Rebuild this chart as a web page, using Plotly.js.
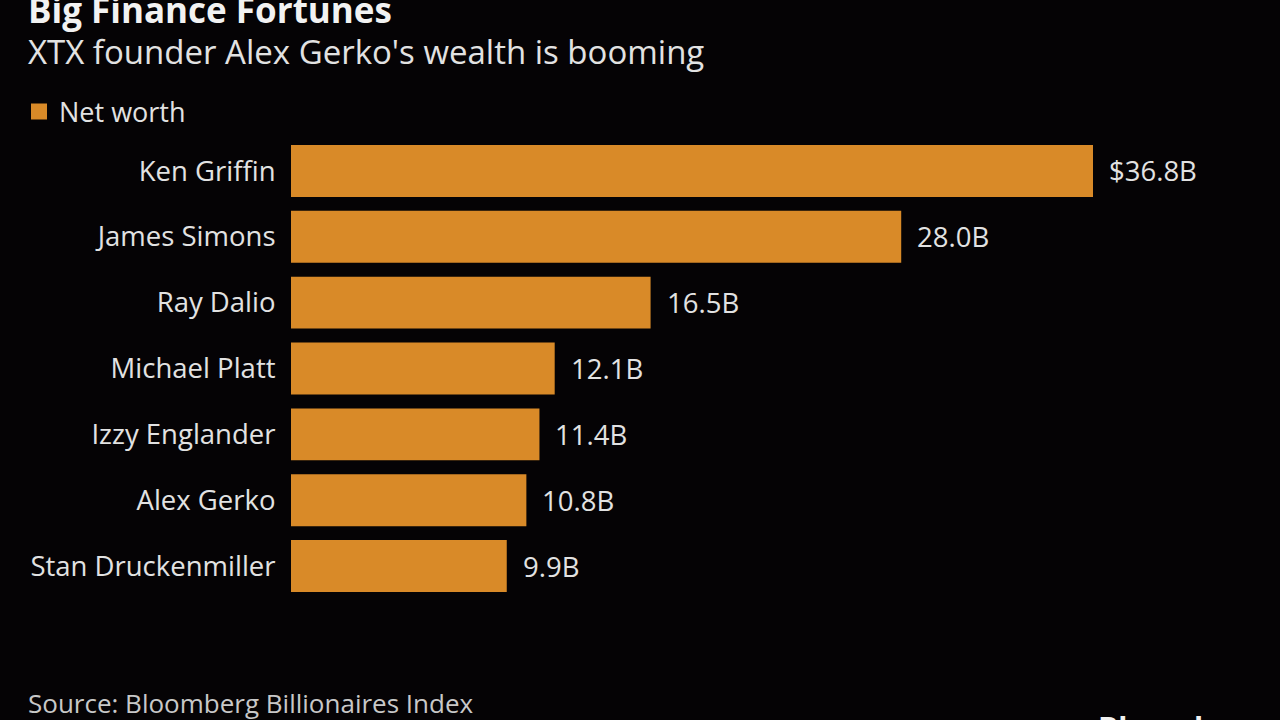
<!DOCTYPE html>
<html>
<head>
<meta charset="utf-8">
<script src="https://cdn.plot.ly/plotly-3.0.1.min.js"></script>
<style>
html,body{margin:0;padding:0;background:#050305;}
#chart{width:1280px;height:720px;}
</style>
</head>
<body>
<div id="chart"></div>
<script>
const names = ["Ken Griffin","James Simons","Ray Dalio","Michael Platt","Izzy Englander","Alex Gerko","Stan Druckenmiller"];
const netWorth = [36.8, 28.0, 16.5, 12.1, 11.4, 10.8, 9.9];
const valueLabels = ["$36.8B","28.0B","16.5B","12.1B","11.4B","10.8B","9.9B"];

const FONT = "'Open Sans', 'Noto Sans', sans-serif";
const BAR = "#D98A28";
const TXT = "#E2E2E2";

const L = 291, R = 80, T = 138, B = 121;
const W = 1280 - L - R, H = 720 - T - B;
const px = x => (x - L) / W;
const py = y => (720 - B - y) / H;

const traces = [
  {
    type: "bar", orientation: "h",
    x: netWorth, y: names,
    marker: {color: BAR},
    showlegend: false, hoverinfo: "skip"
  },
  {
    type: "scatter", mode: "markers",
    x: [null], y: [null],
    name: "Net worth",
    marker: {symbol: "square", size: 19, color: BAR},
    showlegend: true, hoverinfo: "skip"
  }
];

const annotations = names.map((n, i) => ({
  x: netWorth[i], y: n, xref: "x", yref: "y",
  text: valueLabels[i], showarrow: false,
  xanchor: "left", yanchor: "middle", xshift: 14,
  font: {family: FONT, size: 27.5, color: TXT}
}));

annotations.push(
  {xref: "paper", yref: "paper", x: px(26), y: py(9), xanchor: "left", yanchor: "middle",
   text: "<b>Big Finance Fortunes</b>", showarrow: false,
   font: {family: FONT, size: 35, color: "#F2F2F2"}},
  {xref: "paper", yref: "paper", x: px(26), y: py(52), xanchor: "left", yanchor: "middle",
   text: "XTX founder Alex Gerko's wealth is booming", showarrow: false,
   font: {family: FONT, size: 33, color: TXT}},
  {xref: "paper", yref: "paper", x: px(26), y: py(703), xanchor: "left", yanchor: "middle",
   text: "Source: Bloomberg Billionaires Index", showarrow: false,
   font: {family: FONT, size: 26, color: "#C8C8C8"}},
  {xref: "paper", yref: "paper", x: px(1096), y: py(705), xanchor: "left", yanchor: "top",
   text: "<b>Bloomberg</b>", showarrow: false,
   font: {family: FONT, size: 30, color: "#F2F2F2"}}
);

const layout = {
  width: 1280, height: 720,
  paper_bgcolor: "#050305", plot_bgcolor: "#050305",
  margin: {l: L, r: R, t: T, b: B, pad: 0},
  bargap: 0.212,
  font: {family: FONT, color: TXT},
  xaxis: {range: [0, W / (802 / 36.8)], visible: false, fixedrange: true},
  yaxis: {
    type: "category", autorange: "reversed",
    categoryorder: "array", categoryarray: names,
    ticks: "outside", ticklen: 9, tickcolor: "rgba(0,0,0,0)",
    showgrid: false, zeroline: false, showline: false,
    tickfont: {family: FONT, size: 27.5, color: TXT},
    fixedrange: true
  },
  showlegend: true,
  legend: {
    x: px(19), y: py(112), xanchor: "left", yanchor: "middle",
    orientation: "h", bgcolor: "rgba(0,0,0,0)",
    font: {family: FONT, size: 27, color: TXT}
  },
  annotations: annotations
};

Plotly.newPlot("chart", traces, layout, {displayModeBar: false, staticPlot: true});
</script>
</body>
</html>
